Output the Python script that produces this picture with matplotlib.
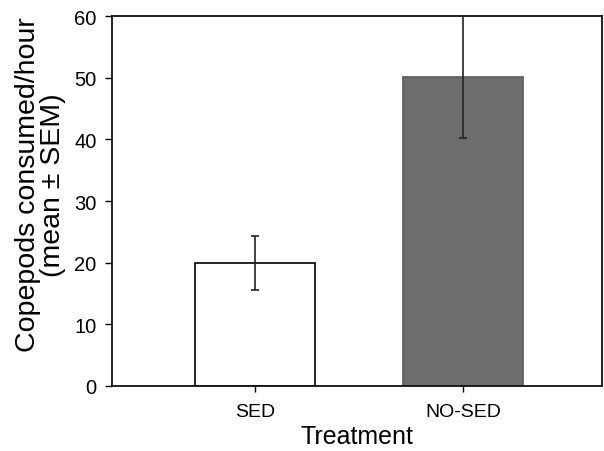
import matplotlib
matplotlib.use("Agg")
import matplotlib.pyplot as plt

# data
treatments = ['SED', 'NO-SED']
means = [20.0, 50.1]
sems = [4.4, 9.9]
bar_colors = ['white', '#6d6d6d']
edge_colors = ['black', '#5a5a5a']

plt.rcParams['font.family'] = ['Liberation Sans', 'DejaVu Sans']

fig = plt.figure(figsize=(6.04, 4.52), dpi=100)
ax = fig.add_axes([0.185, 0.144, 0.812, 0.818])

x = range(len(treatments))
ax.bar(x, means, width=0.575, color=bar_colors, edgecolor=edge_colors, linewidth=1.2, zorder=2)
ax.errorbar(x, means, yerr=sems, fmt='none', ecolor='#222222', elinewidth=1.2,
            capsize=3, capthick=1.2, zorder=3)

ax.set_xlim(-0.69, 1.67)
ax.set_ylim(0, 60)
ax.set_yticks([0, 10, 20, 30, 40, 50, 60])
ax.set_xticks(list(x))
ax.set_xticklabels(treatments)
ax.tick_params(axis='y', direction='out', length=5, width=1, labelsize=14.5, pad=6)
ax.tick_params(axis='x', direction='out', length=4, width=1, labelsize=14, pad=8)

for s in ax.spines.values():
    s.set_linewidth(1.3)
    s.set_color('#111111')

ax.set_ylabel('Copepods consumed/hour\n(mean \u00b1 SEM)', fontsize=20.5, linespacing=0.98)
ax.yaxis.label.set_va('center')
ax.yaxis.set_label_coords(-0.145, 0.546)
ax.set_xlabel('Treatment', fontsize=18, labelpad=3)

fig.savefig('out.png', dpi=100, facecolor='white')
